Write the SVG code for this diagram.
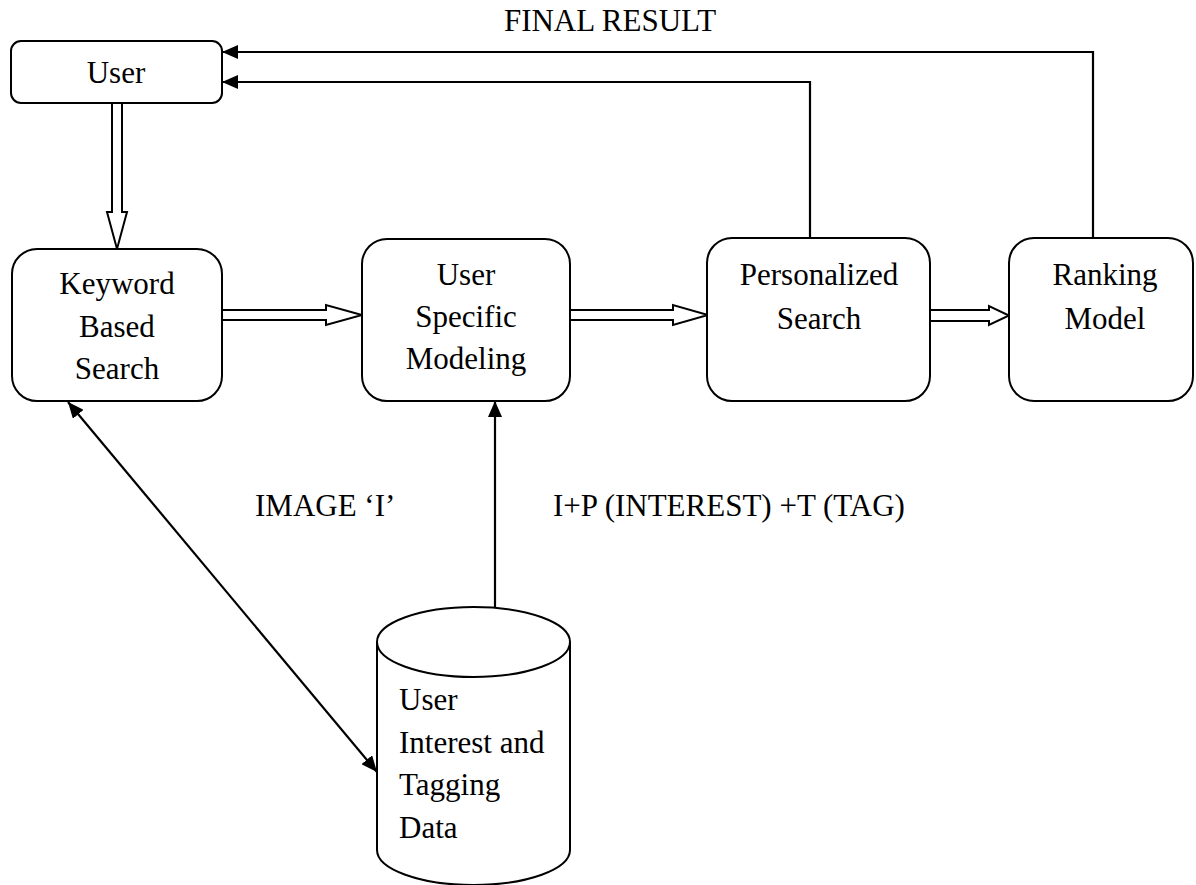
<svg xmlns="http://www.w3.org/2000/svg" width="1196" height="885" viewBox="0 0 1196 885">
<defs>
<style>
.box{fill:#fff;stroke:#000;stroke-width:2}
.hol{fill:#fff;stroke:#000;stroke-width:2;stroke-linejoin:miter}
.ln{fill:none;stroke:#000;stroke-width:2.2}
.t{font-family:'Liberation Serif','Times New Roman',serif;font-size:31px;fill:#000}
.c{text-anchor:middle}
</style>
<marker id="ah" viewBox="0 0 16 14" refX="16" refY="7" markerWidth="16" markerHeight="14" markerUnits="userSpaceOnUse" orient="auto-start-reverse">
<path d="M0 0 L16 7 L0 14 Z" fill="#000"/>
</marker>
</defs>
<rect width="1196" height="885" fill="#fff"/>
<text class="t c" x="610" y="31">FINAL RESULT</text>
<g id="connectors">
<path class="ln" d="M1093 238 V52 H222" marker-end="url(#ah)"/>
<path class="ln" d="M810 238 V82 H222" marker-end="url(#ah)"/>
<path class="ln" d="M495 607 V401" marker-end="url(#ah)"/>
<path class="ln" d="M68 402 L377 772" marker-start="url(#ah)" marker-end="url(#ah)"/>
<polygon class="hol" points="112,103 112,212 107,212 117,249 127,212 122,212 122,103"/>
<polygon class="hol" points="222,310 326,310 326,305 362,315 326,325 326,320 222,320"/>
<polygon class="hol" points="570,310 673,310 673,305 708,315 673,325 673,320 570,320"/>
<polygon class="hol" points="930,310 989,310 989,306 1009,315.5 989,325 989,321 930,321"/>
</g>
<g id="user">
<rect class="box" x="11" y="41" width="211" height="62" rx="10"/>
<text class="t c" x="116" y="83">User</text>
</g>
<g id="keyword">
<rect class="box" x="12" y="249" width="210" height="152" rx="25"/>
<text class="t c" x="117" y="294">Keyword</text>
<text class="t c" x="117" y="337">Based</text>
<text class="t c" x="117" y="379">Search</text>
</g>
<g id="modeling">
<rect class="box" x="362" y="239" width="208" height="162" rx="25"/>
<text class="t c" x="466" y="285">User</text>
<text class="t c" x="466" y="327">Specific</text>
<text class="t c" x="466" y="369">Modeling</text>
</g>
<g id="personalized">
<rect class="box" x="707" y="238" width="223" height="163" rx="25"/>
<text class="t c" x="819" y="285">Personalized</text>
<text class="t c" x="819" y="329">Search</text>
</g>
<g id="ranking">
<rect class="box" x="1009" y="238" width="184" height="163" rx="25"/>
<text class="t c" x="1105" y="285">Ranking</text>
<text class="t c" x="1105" y="329">Model</text>
</g>
<g id="database">
<path class="box" d="M377 642 V850 A96.5 35 0 0 0 570 850 V642"/>
<ellipse class="box" cx="473.5" cy="642" rx="96.5" ry="35"/>
<text class="t" x="399" y="710">User</text>
<text class="t" x="399" y="753">Interest and</text>
<text class="t" x="399" y="795">Tagging</text>
<text class="t" x="399" y="838">Data</text>
</g>
<text class="t" x="255" y="516">IMAGE ‘I’</text>
<text class="t" x="553" y="516">I+P (INTEREST) +T (TAG)</text>
</svg>
